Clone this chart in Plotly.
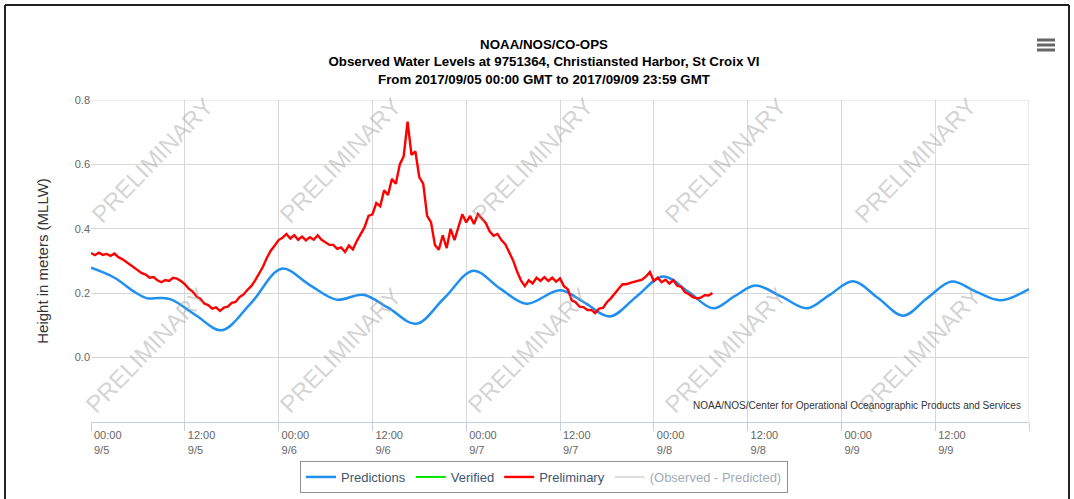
import pandas as pd
import plotly.graph_objects as go

# ---------------- data ----------------
start = pd.Timestamp("2017-09-05 00:00")

# Predictions (hours since 2017-09-05 00:00 GMT, metres MLLW)
pred_hours = [0, 3, 5.5, 7.2, 8.8, 10.3, 13.5, 16.7, 20.5, 24.4, 28, 31.4, 34.8,
              38, 41.6, 45.2, 48.9, 52.3, 55.7, 60.0, 63.2, 66.4, 69.8, 73.2,
              76.4, 79.6, 82.3, 85.0, 88.3, 91.6, 94.5, 97.5, 100.7, 103.9,
              107.0, 110.1, 113.2, 116.3, 120]
pred_values = [0.279, 0.248, 0.205, 0.184, 0.185, 0.180, 0.130, 0.085, 0.170,
               0.276, 0.225, 0.180, 0.195, 0.155, 0.105, 0.185, 0.270, 0.215,
               0.167, 0.209, 0.170, 0.128, 0.190, 0.252, 0.205, 0.153, 0.190,
               0.224, 0.190, 0.153, 0.195, 0.237, 0.185, 0.130, 0.185, 0.236,
               0.205, 0.178, 0.213]

# Preliminary observed water level, every 0.5 h from 2017-09-05 00:00 GMT
obs_step_hours = 0.5
obs_values = [
    0.325, 0.318, 0.326, 0.319, 0.322, 0.316, 0.323, 0.312, 0.306, 0.297,
    0.290, 0.281, 0.272, 0.262, 0.258, 0.248, 0.250, 0.240, 0.234, 0.241,
    0.238, 0.248, 0.245, 0.238, 0.228, 0.214, 0.205, 0.190, 0.182, 0.168,
    0.163, 0.152, 0.156, 0.145, 0.155, 0.158, 0.170, 0.173, 0.188, 0.196,
    0.210, 0.222, 0.240, 0.262, 0.282, 0.310, 0.332, 0.348, 0.365, 0.372,
    0.384, 0.370, 0.380, 0.366, 0.376, 0.364, 0.374, 0.366, 0.380, 0.366,
    0.358, 0.350, 0.350, 0.338, 0.342, 0.328, 0.348, 0.336, 0.362, 0.385,
    0.405, 0.440, 0.445, 0.480, 0.470, 0.520, 0.505, 0.555, 0.540, 0.600,
    0.625, 0.733, 0.630, 0.640, 0.560, 0.540, 0.440, 0.420, 0.350, 0.335,
    0.380, 0.340, 0.400, 0.365, 0.405, 0.445, 0.420, 0.440, 0.415, 0.446,
    0.432, 0.418, 0.392, 0.378, 0.384, 0.365, 0.352, 0.326, 0.302, 0.268,
    0.240, 0.222, 0.240, 0.230, 0.248, 0.238, 0.250, 0.238, 0.248, 0.236,
    0.246, 0.222, 0.212, 0.178, 0.172, 0.158, 0.157, 0.148, 0.148, 0.138,
    0.152, 0.154, 0.172, 0.184, 0.200, 0.214, 0.228, 0.228, 0.232, 0.236,
    0.238, 0.242, 0.252, 0.266, 0.238, 0.248, 0.234, 0.242, 0.230, 0.240,
    0.223, 0.220, 0.203, 0.197, 0.188, 0.184, 0.186, 0.194, 0.193, 0.201,
]

tick_hours = [0, 12, 24, 36, 48, 60, 72, 84, 96, 108, 120]
tick_text = ["00:00<br>9/5", "12:00<br>9/5", "00:00<br>9/6", "12:00<br>9/6",
             "00:00<br>9/7", "12:00<br>9/7", "00:00<br>9/8", "12:00<br>9/8",
             "00:00<br>9/9", "12:00<br>9/9", ""]
y_ticks = [0.0, 0.2, 0.4, 0.6, 0.8]

# ---------------- derived ----------------
pred_times = [start + pd.Timedelta(hours=h) for h in pred_hours]
obs_times = [start + pd.Timedelta(hours=obs_step_hours * i) for i in range(len(obs_values))]
tick_times = [start + pd.Timedelta(hours=h) for h in tick_hours]
x_end = start + pd.Timedelta(hours=120)

FONT = "Liberation Sans, Arial, sans-serif"
W, H = 1074, 499
L, R, T, B = 91, 45, 100, 77
PW, PH = W - L - R, H - T - B


def px(xp):
    return (xp - L) / PW


def py(yp):
    return (H - B - yp) / PH


fig = go.Figure()
fig.add_trace(go.Scatter(x=pred_times, y=pred_values, name="Predictions", mode="lines",
                         line=dict(color="#2090F0", width=2.5, shape="spline", smoothing=1.0)))
fig.add_trace(go.Scatter(x=[None], y=[None], name="Verified", mode="lines",
                         line=dict(color="#00E600", width=2)))
fig.add_trace(go.Scatter(x=obs_times, y=obs_values, name="Preliminary", mode="lines",
                         line=dict(color="#FF0000", width=2.4)))
fig.add_trace(go.Scatter(x=[None], y=[None], name="(Observed - Predicted)", mode="lines",
                         visible="legendonly", line=dict(color="#BBBBBB", width=2)))

annotations = []
# PRELIMINARY watermarks
wm_cols_row1 = [152, 340, 532, 725, 915]
wm_cols_row2 = [146, 340, 528, 725, 920]
for row_y, cols in [(160, wm_cols_row1), (350, wm_cols_row2)]:
    for cx in cols:
        annotations.append(dict(text="PRELIMINARY", x=px(cx), y=py(row_y),
                                xref="paper", yref="paper", xanchor="center", yanchor="middle",
                                showarrow=False, textangle=-46,
                                font=dict(family=FONT, size=24, color="rgba(150,150,150,0.42)")))
annotations.append(dict(text="NOAA/NOS/Center for Operational Oceanographic Products and Services",
                        x=px(1023), y=py(405), xref="paper", yref="paper", xanchor="right",
                        yanchor="middle", showarrow=False,
                        font=dict(family=FONT, size=10, color="#333333")))

shapes = []
# hamburger menu icon
for yc in [40, 45, 50]:
    shapes.append(dict(type="rect", xref="paper", yref="paper",
                       x0=px(1037), x1=px(1055), y0=py(yc + 1.5), y1=py(yc - 1.5),
                       line=dict(width=0), fillcolor="#666666"))
# outer frame
shapes.append(dict(type="line", xref="paper", yref="paper", x0=px(5), x1=px(5),
                   y0=py(5), y1=py(499), line=dict(color="#222222", width=2)))
shapes.append(dict(type="line", xref="paper", yref="paper", x0=px(5), x1=px(1069),
                   y0=py(5), y1=py(5), line=dict(color="#222222", width=2)))
shapes.append(dict(type="line", xref="paper", yref="paper", x0=px(1069), x1=px(1069),
                   y0=py(5), y1=py(499), line=dict(color="#222222", width=2)))
# right edge grid line (9/10 00:00) and top grid line (0.8)
shapes.append(dict(type="line", xref="x", yref="paper", x0=x_end, x1=x_end, y0=0, y1=1,
                   line=dict(color="#D8D8D8", width=1), layer="below"))
shapes.append(dict(type="line", xref="paper", yref="y", x0=0, x1=1, y0=0.8, y1=0.8,
                   line=dict(color="#D8D8D8", width=1), layer="below"))

fig.update_layout(
    width=W, height=H,
    margin=dict(l=L, r=R, t=T, b=B, pad=0, autoexpand=False),
    paper_bgcolor="white", plot_bgcolor="white",
    font=dict(family=FONT),
    title=dict(text="<b>NOAA/NOS/CO-OPS</b><br><b>Observed Water Levels at 9751364, Christiansted Harbor, St Croix VI</b>"
                    "<br><b>From 2017/09/05 00:00 GMT to 2017/09/09 23:59 GMT</b>",
               x=px(544), xref="paper", xanchor="center", y=1 - 49 / H, yref="container",
               yanchor="top", font=dict(family=FONT, size=13.3, color="#000000")),
    xaxis=dict(type="date", range=[start, x_end], tickvals=tick_times, ticktext=tick_text,
               showgrid=True, gridcolor="#D8D8D8", gridwidth=1, zeroline=False,
               showline=True, linecolor="#C0D0E0", linewidth=1,
               ticks="outside", ticklen=8, tickcolor="#C0D0E0",
               ticklabelposition="outside right", ticklabelstandoff=3, ticklabelshift=2,
               tickfont=dict(family=FONT, size=11, color="#666666")),
    yaxis=dict(range=[-0.2, 0.8], tickvals=y_ticks, tickformat=".1f",
               showgrid=True, gridcolor="#D8D8D8", gridwidth=1, zeroline=False,
               showline=False, ticks="",
               tickfont=dict(family=FONT, size=11, color="#666666"),
               title=dict(text="Height in meters (MLLW)", standoff=22,
                          font=dict(family=FONT, size=15, color="#333333"))),
    yaxis2=dict(range=[-0.2, 0.8], tickvals=y_ticks, tickformat=".1f", overlaying="y",
                side="right", showgrid=False, zeroline=False, showline=False,
                tickfont=dict(family=FONT, size=11, color="#666666")),
    legend=dict(orientation="h", x=px(544), xanchor="center", y=py(477), yanchor="middle",
                bgcolor="rgba(0,0,0,0)", bordercolor="#909090", borderwidth=1,
                font=dict(family=FONT, size=13, color="#3E576F")),
    annotations=annotations,
    shapes=shapes,
    showlegend=True,
)

fig.write_html("out.html", config={"displayModeBar": False},
               post_script="document.body.style.margin='0';")
